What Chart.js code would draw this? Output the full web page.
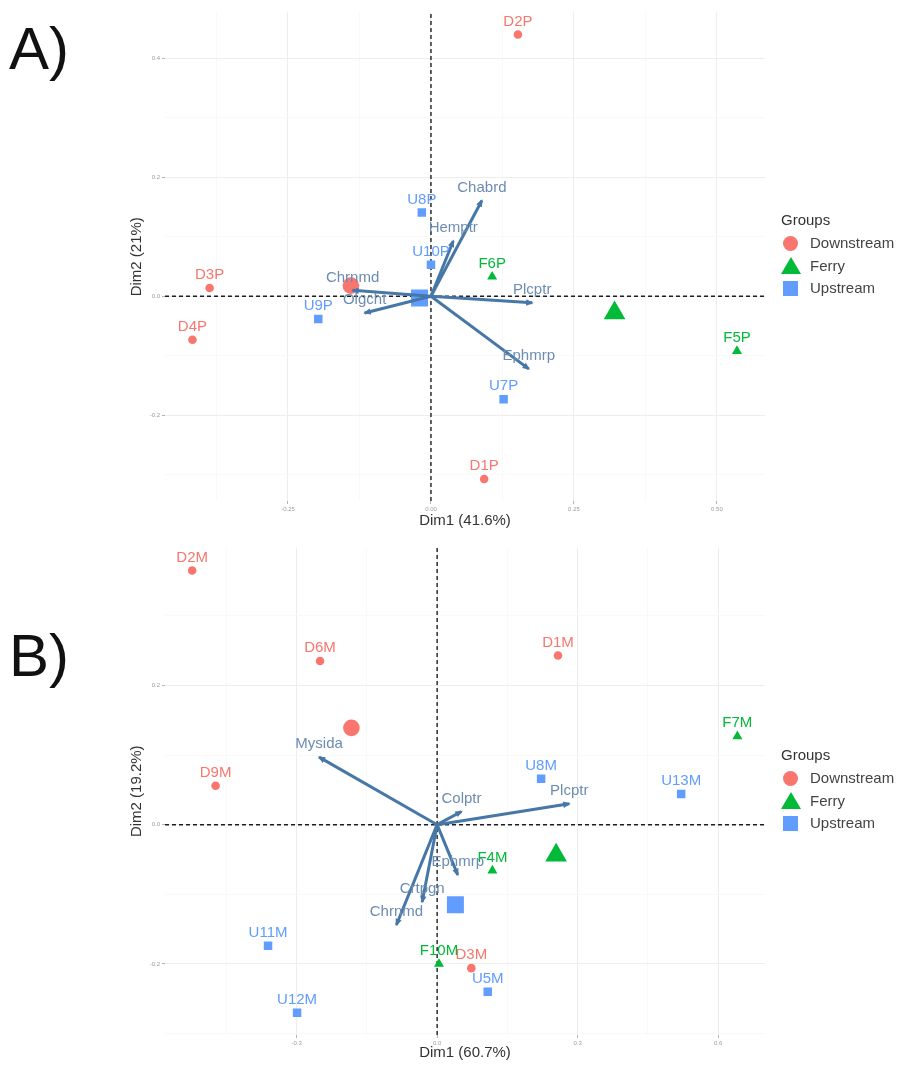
<!DOCTYPE html>
<html lang="en">
<head>
<meta charset="UTF-8">
<title>PCA biplots</title>
<script src="https://cdn.jsdelivr.net/npm/chart.js"></script>
<style>
  body { margin: 0; background: #fff; font-family: "Liberation Sans", Arial, sans-serif; }
  #page { position: relative; width: 901px; height: 1067px; overflow: hidden; }
  canvas { position: absolute; left: 0; }
  .panel-tag { position: absolute; left: 9px; font-size: 60px; line-height: 60px; color: #111; }
  .legend { position: absolute; left: 781px; color: #444; font-size: 15px; }
  .legend .title { height: 24px; line-height: 24px; color: #333; }
  .legend .item { position: relative; height: 22.5px; line-height: 22.5px; padding-left: 29px; }
  .key { position: absolute; }
  .key.circle { left: 2px; top: 3.5px; width: 15px; height: 15px; border-radius: 50%; background: #F8766D; }
  .key.tri { left: 0; top: 2px; width: 0; height: 0; border-left: 10px solid transparent; border-right: 10px solid transparent; border-bottom: 17px solid #00BA38; }
  .key.square { left: 2px; top: 3.5px; width: 15px; height: 15px; background: #619CFF; }
</style>
</head>
<body>
<div id="page">
  <canvas id="chartA" width="901" height="535" style="top:0"></canvas>
  <canvas id="chartB" width="901" height="532" style="top:535px"></canvas>

  <div class="panel-tag" style="top:19px">A)</div>
  <div class="panel-tag" style="top:626px">B)</div>

  <div class="legend" style="top:208px">
    <div class="title">Groups</div>
    <div class="item"><span class="key circle"></span>Downstream</div>
    <div class="item"><span class="key tri"></span>Ferry</div>
    <div class="item"><span class="key square"></span>Upstream</div>
  </div>
  <div class="legend" style="top:743px">
    <div class="title">Groups</div>
    <div class="item"><span class="key circle"></span>Downstream</div>
    <div class="item"><span class="key tri"></span>Ferry</div>
    <div class="item"><span class="key square"></span>Upstream</div>
  </div>
</div>

<script>
// ---- panel A data (Dim1 41.6%, Dim2 21%)
const aDownNames = ['D1P', 'D2P', 'D3P', 'D4P'];
const aDownX = [0.093, 0.152, -0.387, -0.417];
const aDownY = [-0.307, 0.440, 0.014, -0.073];
const aFerryNames = ['F5P', 'F6P'];
const aFerryX = [0.535, 0.107];
const aFerryY = [-0.092, 0.033];
const aUpNames = ['U7P', 'U8P', 'U9P', 'U10P'];
const aUpX = [0.127, -0.016, -0.197, 0.000];
const aUpY = [-0.173, 0.141, -0.038, 0.053];
const aCentX = [-0.140, 0.321, -0.020];   // Downstream, Ferry, Upstream
const aCentY = [0.018, -0.028, -0.003];
const aVarNames = ['Chabrd', 'Hemptr', 'Plcptr', 'Ephmrp', 'Chrnmd', 'Olgcht'];
const aVarX = [0.089, 0.039, 0.177, 0.171, -0.137, -0.116];
const aVarY = [0.161, 0.093, -0.011, -0.122, 0.010, -0.028];
const aXMajor = [-0.25, 0, 0.25, 0.5];
const aXLabels = ['-0.25', '0.00', '0.25', '0.50'];
const aXMinor = [-0.375, -0.125, 0.125, 0.375];
const aYMajor = [-0.2, 0, 0.2, 0.4];
const aYLabels = ['-0.2', '0.0', '0.2', '0.4'];
const aYMinor = [-0.3, -0.1, 0.1, 0.3];

// ---- panel B data (Dim1 60.7%, Dim2 19.2%)
const bDownNames = ['D1M', 'D2M', 'D3M', 'D6M', 'D9M'];
const bDownX = [0.258, -0.523, 0.073, -0.250, -0.473];
const bDownY = [0.243, 0.365, -0.206, 0.235, 0.056];
const bFerryNames = ['F4M', 'F7M', 'F10M'];
const bFerryX = [0.118, 0.641, 0.004];
const bFerryY = [-0.066, 0.127, -0.200];
const bUpNames = ['U5M', 'U8M', 'U11M', 'U12M', 'U13M'];
const bUpX = [0.108, 0.222, -0.361, -0.299, 0.521];
const bUpY = [-0.240, 0.066, -0.174, -0.270, 0.044];
const bCentX = [-0.183, 0.254, 0.039];
const bCentY = [0.139, -0.044, -0.115];
const bVarNames = ['Mysida', 'Colptr', 'Plcptr', 'Ephmrp', 'Crtpgn', 'Chrnmd'];
const bVarX = [-0.252, 0.052, 0.282, 0.044, -0.032, -0.087];
const bVarY = [0.097, 0.019, 0.030, -0.072, -0.111, -0.144];
const bXMajor = [-0.3, 0, 0.3, 0.6];
const bXLabels = ['-0.3', '0.0', '0.3', '0.6'];
const bXMinor = [-0.45, -0.15, 0.15, 0.45];
const bYMajor = [-0.2, 0, 0.2];
const bYLabels = ['-0.2', '0.0', '0.2'];
const bYMinor = [-0.3, -0.1, 0.1, 0.3];

const RED = '#F8766D', GREEN = '#00BA38', BLUE = '#619CFF';
const ARROW = '#4677A6', ARROW_TXT = '#6B8CB3';

Chart.defaults.font.family = '"Liberation Sans", Arial, sans-serif';

const pts = (xs, ys) => xs.map((x, i) => ({ x: x, y: ys[i] }));
const same = (a, b) => Math.abs(a - b) < 1e-9;

// text labels above points + arrow heads
const labelPlugin = {
  id: 'biplotLabels',
  afterDatasetsDraw(chart) {
    const ctx = chart.ctx;
    chart.data.datasets.forEach((ds, i) => {
      const meta = chart.getDatasetMeta(i);
      if (ds.arrow) {
        const a = meta.data[0], b = meta.data[1];
        const ang = Math.atan2(b.y - a.y, b.x - a.x);
        ctx.save();
        ctx.translate(b.x, b.y);
        ctx.rotate(ang);
        ctx.fillStyle = ds.borderColor;
        ctx.beginPath();
        ctx.moveTo(1.5, 0);
        ctx.lineTo(-6, -3.2);
        ctx.lineTo(-6, 3.2);
        ctx.closePath();
        ctx.fill();
        ctx.restore();
      }
      if (!ds.names) return;
      ctx.save();
      ctx.font = '15px "Liberation Sans", Arial, sans-serif';
      ctx.fillStyle = ds.textColor;
      ctx.textAlign = 'center';
      ctx.textBaseline = 'middle';
      ds.names.forEach((n, j) => {
        const el = meta.data[ds.labelIndex !== undefined ? ds.labelIndex : j];
        ctx.fillText(n, el.x, el.y - 13);
      });
      ctx.restore();
    });
  }
};

function axis(min, max, major, labels, minor, title, fitSize, horizontal, titlePad) {
  const isMajor = v => major.some(m => same(m, v));
  return {
    type: 'linear',
    min: min,
    max: max,
    afterBuildTicks: s => { s.ticks = major.concat(minor).sort((p, q) => p - q).map(v => ({ value: v })); },
    afterFit: s => { if (horizontal) s.height = fitSize; else s.width = fitSize; },
    ticks: {
      autoSkip: false,
      maxRotation: 0,
      padding: 2,
      color: '#9a9a9a',
      font: { size: 6 },
      callback: v => {
        const k = major.findIndex(m => same(m, v));
        return k >= 0 ? labels[k] : '';
      }
    },
    grid: {
      color: c => isMajor(c.tick.value) ? '#EDEDED' : '#F7F7F7',
      lineWidth: c => isMajor(c.tick.value) ? 1 : 0.8,
      tickColor: c => isMajor(c.tick.value) ? '#b5b5b5' : 'rgba(0,0,0,0)',
      tickLength: 3
    },
    border: { display: false },
    title: { display: true, text: title, color: '#333', font: { size: 15 }, padding: titlePad }
  };
}

function buildPanel(id, p) {
  const datasets = [
    { data: [{ x: p.xMin, y: 0 }, { x: p.xMax, y: 0 }], showLine: true, borderColor: '#1e1e1e',
      borderWidth: 1.4, borderDash: [4, 3], pointRadius: 0, order: 10 },
    { data: [{ x: 0, y: p.yMin }, { x: 0, y: p.yMax }], showLine: true, borderColor: '#1e1e1e',
      borderWidth: 1.4, borderDash: [4, 3], pointRadius: 0, order: 10 },
    { data: pts(p.downX, p.downY), names: p.downNames, textColor: RED, pointStyle: 'circle',
      pointRadius: 4.3, backgroundColor: RED, borderWidth: 0, order: 6 },
    { data: pts(p.ferryX, p.ferryY), names: p.ferryNames, textColor: GREEN, pointStyle: 'triangle',
      pointRadius: 5.8, backgroundColor: GREEN, borderWidth: 0, order: 6 },
    { data: pts(p.upX, p.upY), names: p.upNames, textColor: BLUE, pointStyle: 'rect',
      pointRadius: 6, backgroundColor: BLUE, borderWidth: 0, order: 6 },
    { data: pts(p.centX, p.centY), pointStyle: ['circle', 'triangle', 'rect'],
      pointRadius: [8.3, 12.5, 12], backgroundColor: [RED, GREEN, BLUE], borderWidth: 0, order: 5 }
  ];
  p.varNames.forEach((n, i) => {
    datasets.push({
      data: [{ x: 0, y: 0 }, { x: p.varX[i], y: p.varY[i] }], showLine: true, arrow: true,
      borderColor: ARROW, borderWidth: 3, pointRadius: 0, names: [n], labelIndex: 1,
      textColor: ARROW_TXT, order: 2
    });
  });

  return new Chart(document.getElementById(id), {
    type: 'scatter',
    data: { datasets: datasets },
    options: {
      responsive: false,
      animation: false,
      devicePixelRatio: 1,
      events: [],
      layout: { padding: p.padding },
      plugins: { legend: { display: false }, tooltip: { enabled: false } },
      scales: {
        x: axis(p.xMin, p.xMax, p.xMajor, p.xLabels, p.xMinor, p.xTitle, p.xAxisH, true, { top: 0, bottom: 5 }),
        y: axis(p.yMin, p.yMax, p.yMajor, p.yLabels, p.yMinor, p.yTitle, 40, false, { top: 3, bottom: 0 })
      }
    },
    plugins: [labelPlugin]
  });
}

buildPanel('chartA', {
  xMin: -0.465, xMax: 0.584, yMin: -0.344, yMax: 0.477,
  downNames: aDownNames, downX: aDownX, downY: aDownY,
  ferryNames: aFerryNames, ferryX: aFerryX, ferryY: aFerryY,
  upNames: aUpNames, upX: aUpX, upY: aUpY,
  centX: aCentX, centY: aCentY,
  varNames: aVarNames, varX: aVarX, varY: aVarY,
  xMajor: aXMajor, xLabels: aXLabels, xMinor: aXMinor,
  yMajor: aYMajor, yLabels: aYLabels, yMinor: aYMinor,
  xTitle: 'Dim1 (41.6%)', yTitle: 'Dim2 (21%)',
  xAxisH: 34,
  padding: { left: 125, right: 136, top: 9, bottom: 0 }
});

buildPanel('chartB', {
  xMin: -0.581, xMax: 0.700, yMin: -0.302, yMax: 0.398,
  downNames: bDownNames, downX: bDownX, downY: bDownY,
  ferryNames: bFerryNames, ferryX: bFerryX, ferryY: bFerryY,
  upNames: bUpNames, upX: bUpX, upY: bUpY,
  centX: bCentX, centY: bCentY,
  varNames: bVarNames, varX: bVarX, varY: bVarY,
  xMajor: bXMajor, xLabels: bXLabels, xMinor: bXMinor,
  yMajor: bYMajor, yLabels: bYLabels, yMinor: bYMinor,
  xTitle: 'Dim1 (60.7%)', yTitle: 'Dim2 (19.2%)',
  xAxisH: 32,
  padding: { left: 125, right: 136, top: 6, bottom: 0 }
});
</script>
</body>
</html>
